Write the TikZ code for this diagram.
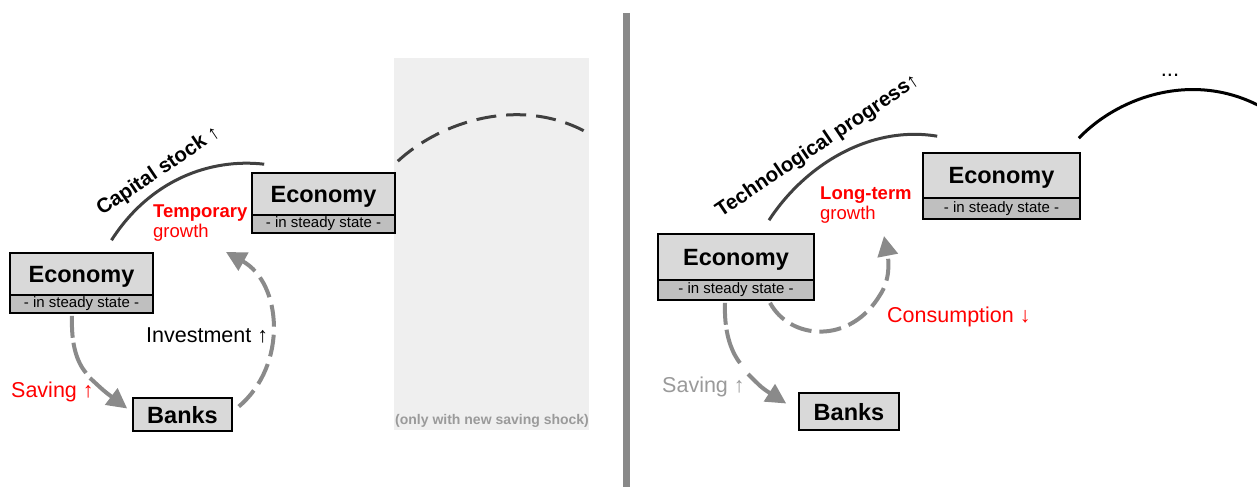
\documentclass[tikz,border=0pt]{standalone}
\usepackage{fontspec}
\setmainfont{Liberation Sans}
\usetikzlibrary{arrows.meta,calc}
\definecolor{boxtop}{HTML}{D9D9D9}
\definecolor{boxbot}{HTML}{BFBFBF}
\definecolor{arrowgray}{HTML}{8A8A8A}
\definecolor{arcgray}{HTML}{404040}
\definecolor{shadegray}{HTML}{EFEFEF}
\definecolor{sepgray}{HTML}{898989}
\definecolor{lightgray}{HTML}{9A9A9A}
\definecolor{myred}{HTML}{FF0000}
\begin{document}
\begin{tikzpicture}[x=1pt,y=-1pt,
  ecotop/.style={draw=black, line width=1.6pt, fill=boxtop, inner sep=0pt, text depth=0pt,
    font=\fontsize{23.5}{26}\selectfont\bfseries},
  ecobot/.style={draw=black, line width=1.6pt, fill=boxbot, inner sep=0pt,
    font=\fontsize{15}{17}\selectfont},
  bankbox/.style={draw=black, line width=1.6pt, fill=boxtop, inner sep=0pt, text depth=0pt,
    font=\fontsize{23.5}{26}\selectfont\bfseries},
  flow/.style={draw=arrowgray, line width=4pt},
  dashflow/.style={flow, dash pattern=on 22pt off 8pt},
  savdash/.style={flow, dash pattern=on 22pt off 5pt on 40pt off 8pt},
  bigtip/.style={-{Triangle[length=20pt,width=20pt]}},
  arcline/.style={draw=arcgray, line width=3pt},
  lbl/.style={anchor=base west, inner sep=0pt, font=\fontsize{21.5}{24}\selectfont},
  smalllbl/.style={anchor=base west, inner sep=0pt, font=\fontsize{18.5}{20}\selectfont},
  rotlbl/.style={anchor=base west, inner sep=0pt, rotate=34, font=\fontsize{20.5}{22}\selectfont\bfseries}
]
\useasboundingbox (0,0) rectangle (1257,487);
\fill[white] (0,0) rectangle (1257,487);

% shaded region
\node[fill=shadegray, inner sep=0pt, minimum width=195pt, minimum height=372pt] (shade) at (491.5,244) {};

% separator
\coordinate (sepTop) at (626.5,13);
\coordinate (sepBot) at (626.5,487);
\draw[sepgray, line width=7pt] (sepTop) -- (sepBot);

% ---------- left panel ----------
\node[ecotop, minimum width=143pt, minimum height=42pt] (e1) at (81.5,274) {Economy};
\node[ecobot, minimum width=143pt, minimum height=18pt] (e1s) at (81.5,304) {- in steady state -};
\node[ecotop, minimum width=143pt, minimum height=42pt] (e2) at (323.5,194) {Economy};
\node[ecobot, minimum width=143pt, minimum height=18pt] (e2s) at (323.5,224) {- in steady state -};
\node[bankbox, minimum width=99pt, minimum height=33pt] (bL) at (182.5,414.5) {Banks};

% capital stock arc
\coordinate (csA) at ($(e1.north)+(30,-12)$);
\coordinate (csB) at ($(e2.north west)+(13,-8)$);
\draw[arcline] (csA) .. controls (150,180) and (210,158) .. (csB);
\node[rotlbl] (capl) at (102,216) {Capital stock {\mdseries ↑}};

% dashed arc in shaded region
\coordinate (gaA) at ($(e2.north east)+(2,-11)$);
\coordinate (gaB) at (588,133);
\draw[arcline, dash pattern=on 20pt off 10pt] (gaA) .. controls (440,122) and (520,95) .. (gaB);

% labels
\node[smalllbl, text=myred, font=\fontsize{18.5}{20}\selectfont\bfseries] (temp) at (153,217) {Temporary};
\node[smalllbl, text=myred] (gro1) at (153,237) {growth};
\node[lbl] (inv) at (146,342) {Investment ↑};
\node[lbl, text=myred] (sav1) at (11,397) {Saving ↑};
\node[anchor=base west, inner sep=0pt, text=lightgray, font=\fontsize{14}{16}\selectfont\bfseries] (only) at (395,424) {(only with new saving shock)};

% saving flow (left)
\coordinate (s1a) at ($(e1s.south)+(-9.5,2)$);
\coordinate (s1b) at (86,373);
\coordinate (s1c) at (90,378);
\coordinate (s1d) at ($(bL.west)+(-5,-6)$);
\draw[savdash] (s1a) .. controls (71,345) and (77,362) .. (s1b);
\draw[flow, bigtip] (s1c) .. controls (104,391) .. (s1d);

% investment flow
\coordinate (i1a) at ($(bL.east)+(6,-8)$);
\coordinate (i1b) at (226,252);
\draw[dashflow, bigtip] (i1a) .. controls (288,365) and (282,283) .. (i1b);

% ---------- right panel ----------
\node[ecotop, minimum width=156pt, minimum height=46pt] (eA) at (736,257) {Economy};
\node[ecobot, minimum width=156pt, minimum height=20pt] (eAs) at (736,290) {- in steady state -};
\node[ecotop, minimum width=157pt, minimum height=45pt] (eB) at (1001.5,175.5) {Economy};
\node[ecobot, minimum width=157pt, minimum height=21pt] (eBs) at (1001.5,208.5) {- in steady state -};
\node[bankbox, minimum width=100pt, minimum height=37pt] (bR) at (849,411.5) {Banks};

% technological progress arc
\coordinate (tpA) at ($(eA.north)+(33,-13)$);
\coordinate (tpB) at ($(eB.north west)+(15,-16)$);
\draw[arcline] (tpA) .. controls (805,165) and (870,125) .. (tpB);
\node[rotlbl] (techl) at (721,218) {Technological progress{\mdseries ↑}};

% black arc to the right
\coordinate (baA) at ($(eB.north east)+(-2,-14)$);
\coordinate (baB) at (1270,112);
\draw[black, line width=3pt] (baA) .. controls (1120,95) and (1200,68) .. (baB);
\node[anchor=base, inner sep=0pt, font=\fontsize{22}{24}\selectfont] (dots) at (1170,77) {...};

% labels
\node[smalllbl, text=myred, font=\fontsize{18.5}{20}\selectfont\bfseries] (lt) at (820,199) {Long-term};
\node[smalllbl, text=myred] (gro2) at (820,219) {growth};
\node[lbl, text=myred] (cons) at (887,322) {Consumption ↓};
\node[lbl, text=lightgray] (sav2) at (662,392) {Saving ↑};

% saving flow (right)
\coordinate (s2a) at ($(eAs.south)+(-11,2)$);
\coordinate (s2b) at (740,363);
\coordinate (s2c) at (748,374);
\coordinate (s2d) at ($(bR.west)+(-12,-8)$);
\draw[savdash] (s2a) .. controls (724,330) and (730,350) .. (s2b);
\draw[flow, bigtip] (s2c) .. controls (762,388) .. (s2d);

% consumption loop
\coordinate (c1a) at ($(eAs.south)+(34,2)$);
\coordinate (c1m) at (880,295);
\coordinate (c1b) at (884,236);
\draw[dashflow, bigtip] (c1a) .. controls (790,340) and (850,345) .. (c1m)
   .. controls (890,280) and (889,262) .. (c1b);
\end{tikzpicture}
\end{document}
